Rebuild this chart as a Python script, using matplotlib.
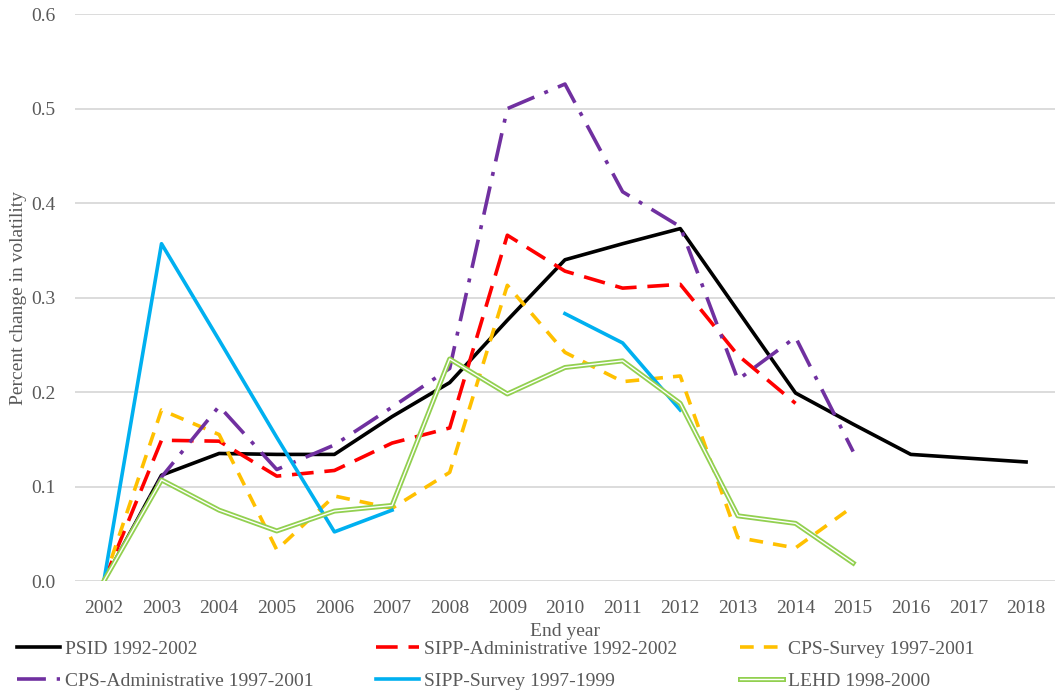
import matplotlib.pyplot as plt
import matplotlib.patheffects as pe
import numpy as np

plt.rcParams['font.family'] = ['Liberation Serif', 'DejaVu Serif']

years = list(range(2002, 2019))

psid = [0.0, 0.112, 0.135, 0.134, 0.134, 0.174, 0.210, 0.276, 0.340, 0.357,
        0.373, 0.286, 0.199, 0.166, 0.134, 0.130, 0.126]
sipp_admin = [0.0, 0.149, 0.148, 0.111, 0.117, 0.146, 0.162, 0.366, 0.328,
              0.310, 0.314, 0.239, 0.188]
cps_survey = [0.0, 0.181, 0.155, 0.033, 0.090, 0.077, 0.115, 0.313, 0.242,
              0.211, 0.217, 0.046, 0.035, 0.079]
cps_admin = [0.0, 0.110, 0.185, 0.118, 0.144, 0.184, 0.225, 0.500, 0.526,
             0.412, 0.375, 0.213, 0.258, 0.137]
sipp_survey = [0.0, 0.357, 0.255, 0.152, 0.052, 0.075, np.nan, np.nan, 0.283,
               0.252, 0.181]
lehd = [0.0, 0.107, 0.075, 0.053, 0.074, 0.080, 0.235, 0.198, 0.226, 0.233,
        0.188, 0.069, 0.061, 0.019]

grey = '#595959'

fig = plt.figure(figsize=(10.57, 6.93), dpi=100)
ax = fig.add_axes([0.071, 0.1616, 0.927, 0.818])

lw = 2.6
l1, = ax.plot(years[:len(psid)], psid, color='black', lw=lw,
              label='PSID 1992-2002')
l2, = ax.plot(years[:len(sipp_admin)], sipp_admin, color='#FF0000', lw=lw,
              dashes=(6, 3), label='SIPP-Administrative 1992-2002')
l3, = ax.plot(years[:len(cps_survey)], cps_survey, color='#FFC000', lw=lw,
              dashes=(3.8, 2.8), label='CPS-Survey 1997-2001')
l4, = ax.plot(years[:len(cps_admin)], cps_admin, color='#7030A0', lw=lw,
              dashes=(8, 3, 1.1, 3), label='CPS-Administrative 1997-2001')
l5, = ax.plot(years[:len(sipp_survey)], sipp_survey, color='#00B0F0', lw=lw,
              label='SIPP-Survey 1997-1999')
l6, = ax.plot(years[:len(lehd)], lehd, color='white', lw=1.0,
              path_effects=[pe.Stroke(linewidth=3.6, foreground='#92D050'), pe.Normal()],
              label='LEHD 1998-2000')

ax.set_xlim(2001.5, 2018.5)
ax.set_ylim(0, 0.6)
ax.set_xticks(years)
ax.set_yticks(np.arange(0, 0.61, 0.1))
ax.set_yticklabels(['%.1f' % v for v in np.arange(0, 0.61, 0.1)])
ax.grid(axis='y', color='#d9d9d9', lw=1.3)
ax.set_axisbelow(True)
for s in ax.spines.values():
    s.set_visible(False)
ax.tick_params(length=0, labelsize=14, labelcolor=grey)
ax.tick_params(axis='x', pad=14)
ax.tick_params(axis='y', pad=14)

ax.set_xlabel('End year', fontsize=14, color=grey, labelpad=4)
ax.set_ylabel('Percent change in volatility', fontsize=14, color=grey, labelpad=3)

handles = [l1, l4, l2, l5, l3, l6]
leg = fig.legend(handles=handles, labels=[h.get_label() for h in handles],
                 ncol=3, loc='center left', bbox_to_anchor=(0.016, 0.04),
                 frameon=False, fontsize=14, handlelength=2.2, handletextpad=0.25,
                 columnspacing=3.25, labelspacing=0.72, borderpad=0, borderaxespad=0)
for t in leg.get_texts():
    t.set_color(grey)

fig.savefig('out.png', dpi=100)
